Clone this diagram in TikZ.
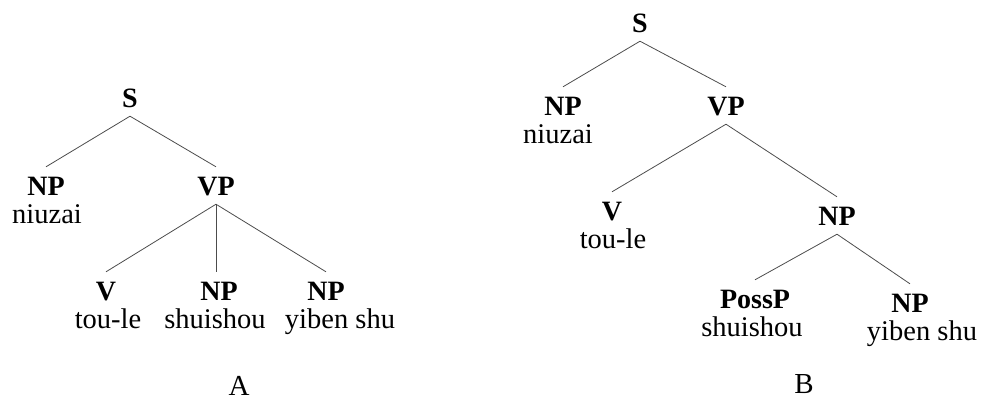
\documentclass[tikz,border=0pt]{standalone}
\usepackage{fontspec}
\setmainfont{Liberation Serif}
\begin{document}
\begin{tikzpicture}[x=1pt,y=-1pt,
  cat/.style={font=\fontsize{28}{32}\selectfont\bfseries, anchor=base, inner xsep=0pt, inner ysep=9pt, text height=19pt, text depth=0pt},
  word/.style={font=\fontsize{28.5}{32}\selectfont, anchor=base, inner sep=0pt},
  figlabel/.style={font=\fontsize{29}{32}\selectfont, anchor=base, inner sep=0pt},
  conn/.style={draw=black!70, line width=0.8pt}]
\useasboundingbox (0,0) rectangle (997,400);
% ---- Tree A ----
\node[cat] (aS) at (130,107) {S};
\node[cat] (aNP) at (46,195) {NP};
\node[word] (aniuzai) at (47,223) {niuzai};
\node[cat] (aVP) at (216,195) {VP};
\node[cat] (aV) at (106,300) {V};
\node[word] (atoule) at (108,328) {tou-le};
\node[cat] (aNPm) at (219,300) {NP};
\node[word] (ashui) at (215,328) {shuishou};
\node[cat] (aNPr) at (326,300) {NP};
\node[word] (ayiben) at (340,328) {yiben shu};
\node[figlabel] (labA) at (239,395) {A};
\draw[conn] (aS.south) -- (aNP.north);
\draw[conn] (aS.south) -- (aVP.north);
\draw[conn] (aVP.south) -- (aV.north);
\draw[conn] (aVP.south) -- (aVP.south |- aNPm.north);
\draw[conn] (aVP.south) -- (aNPr.north);
% ---- Tree B ----
\node[cat] (bS) at (640,32) {S};
\node[cat] (bNP) at (563,115) {NP};
\node[word] (bniuzai) at (558,143) {niuzai};
\node[cat] (bVP) at (726,115) {VP};
\node[cat] (bV) at (612,220) {V};
\node[word] (btoule) at (613,248) {tou-le};
\node[cat] (bNP2) at (837,225) {NP};
\node[cat] (bPoss) at (755,308) {PossP};
\node[word] (bshui) at (752,336) {shuishou};
\node[cat] (bNPr) at (910,312) {NP};
\node[word] (byiben) at (922,340) {yiben shu};
\node[figlabel] (labB) at (804,393) {B};
\draw[conn] (bS.south) -- (bNP.north);
\draw[conn] (bS.south) -- (bVP.north);
\draw[conn] (bVP.south) -- (bV.north);
\draw[conn] (bVP.south) -- (bNP2.north);
\draw[conn] (bNP2.south) -- (bPoss.north);
\draw[conn] (bNP2.south) -- (bNPr.north);
\end{tikzpicture}
\end{document}
